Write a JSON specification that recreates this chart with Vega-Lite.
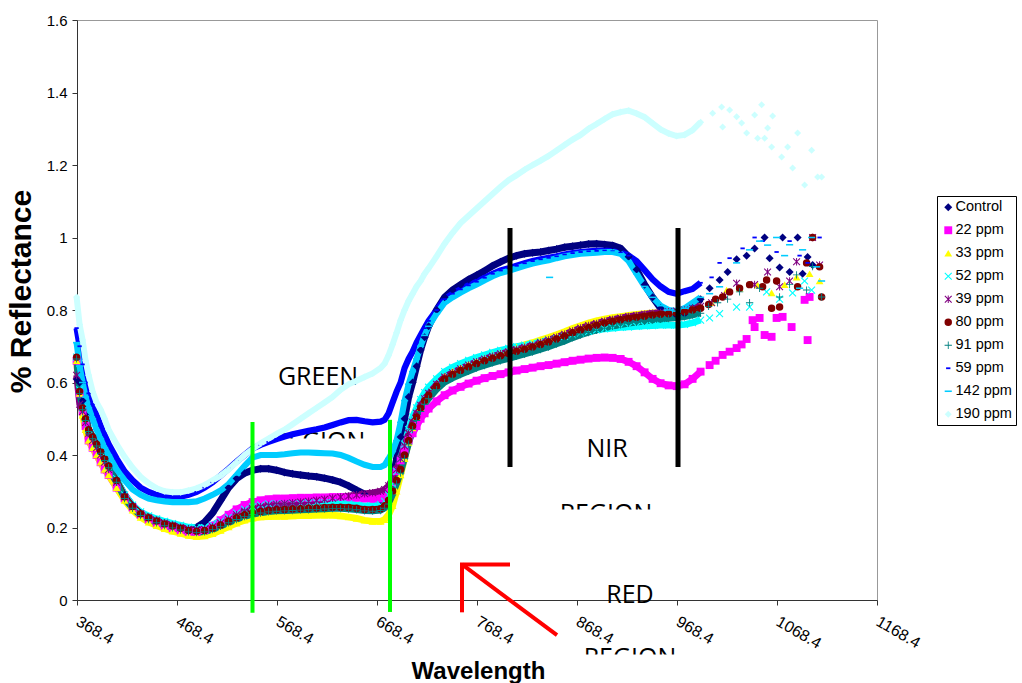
{
"$schema":"https://vega.github.io/schema/vega-lite/v6.json",
"width":800,"height":580,
"autosize":{"type":"none"},
"padding":{"left":77,"top":20,"right":145,"bottom":83},
"background":"white",
"config":{"view":{"stroke":"#999"},"font":"Liberation Sans","axis":{"grid":false,"domainColor":"#333","tickColor":"#333","labelColor":"#000","titleColor":"#000","labelFont":"Liberation Sans","titleFont":"Liberation Sans","labelFlush":false,"labelOverlap":false,"labelBound":false}},
"resolve":{"legend":{"color":"independent","shape":"independent","size":"independent","strokeWidth":"independent"}},
"datasets":{
"series":[{"k":"a","name":"Control","idx":0},{"k":"b","name":"22 ppm","idx":1},{"k":"c","name":"33 ppm","idx":2},{"k":"d","name":"52 ppm","idx":3},{"k":"e","name":"39 ppm","idx":4},{"k":"f","name":"80 ppm","idx":5},{"k":"g","name":"91 ppm","idx":6},{"k":"h","name":"59 ppm","idx":7},{"k":"i","name":"142 ppm","idx":8},{"k":"j","name":"190 ppm","idx":9}],
"main":[
{"w":368,"a":0.61,"b":0.66,"c":0.66,"d":0.67,"e":0.62,"f":0.67,"g":0.665,"h":0.75,"i":0.71,"j":0.836},
{"w":371,"a":0.60,"b":0.57,"c":0.57,"d":0.58,"e":0.54,"f":0.575,"g":0.57,"h":0.70,"i":0.645,"j":0.76},
{"w":374,"a":0.55,"b":0.52,"c":0.51,"d":0.53,"e":0.52,"f":0.53,"g":0.525,"h":0.65,"i":0.60,"j":0.717},
{"w":377,"a":0.51,"b":0.48,"c":0.47,"d":0.50,"e":0.49,"f":0.50,"g":0.495,"h":0.60,"i":0.56,"j":0.66},
{"w":380,"a":0.47,"b":0.44,"c":0.44,"d":0.47,"e":0.46,"f":0.47,"g":0.465,"h":0.57,"i":0.53,"j":0.62},
{"w":384,"a":0.45,"b":0.42,"c":0.42,"d":0.45,"e":0.44,"f":0.45,"g":0.445,"h":0.54,"i":0.50,"j":0.575},
{"w":388,"a":0.43,"b":0.40,"c":0.40,"d":0.43,"e":0.42,"f":0.43,"g":0.425,"h":0.51,"i":0.47,"j":0.545},
{"w":392,"a":0.41,"b":0.38,"c":0.38,"d":0.41,"e":0.40,"f":0.41,"g":0.405,"h":0.48,"i":0.445,"j":0.525},
{"w":396,"a":0.39,"b":0.36,"c":0.36,"d":0.39,"e":0.38,"f":0.39,"g":0.385,"h":0.455,"i":0.42,"j":0.50},
{"w":400,"a":0.37,"b":0.345,"c":0.345,"d":0.37,"e":0.36,"f":0.37,"g":0.365,"h":0.43,"i":0.40,"j":0.47},
{"w":408,"a":0.33,"b":0.31,"c":0.31,"d":0.335,"e":0.325,"f":0.33,"g":0.325,"h":0.39,"i":0.36,"j":0.43},
{"w":416,"a":0.29,"b":0.28,"c":0.275,"d":0.29,"e":0.285,"f":0.285,"g":0.28,"h":0.355,"i":0.33,"j":0.395},
{"w":424,"a":0.26,"b":0.255,"c":0.248,"d":0.262,"e":0.258,"f":0.258,"g":0.253,"h":0.33,"i":0.305,"j":0.365},
{"w":432,"a":0.24,"b":0.235,"c":0.228,"d":0.243,"e":0.238,"f":0.238,"g":0.233,"h":0.31,"i":0.29,"j":0.34},
{"w":440,"a":0.228,"b":0.222,"c":0.215,"d":0.232,"e":0.227,"f":0.227,"g":0.222,"h":0.298,"i":0.28,"j":0.322},
{"w":448,"a":0.22,"b":0.213,"c":0.205,"d":0.224,"e":0.219,"f":0.218,"g":0.213,"h":0.29,"i":0.275,"j":0.308},
{"w":456,"a":0.212,"b":0.205,"c":0.197,"d":0.217,"e":0.212,"f":0.21,"g":0.205,"h":0.285,"i":0.272,"j":0.30},
{"w":464,"a":0.206,"b":0.198,"c":0.19,"d":0.211,"e":0.206,"f":0.204,"g":0.199,"h":0.283,"i":0.27,"j":0.297},
{"w":472,"a":0.20,"b":0.192,"c":0.184,"d":0.206,"e":0.20,"f":0.198,"g":0.193,"h":0.285,"i":0.27,"j":0.297},
{"w":480,"a":0.196,"b":0.188,"c":0.178,"d":0.201,"e":0.195,"f":0.192,"g":0.188,"h":0.29,"i":0.27,"j":0.302},
{"w":488,"a":0.20,"b":0.188,"c":0.175,"d":0.199,"e":0.193,"f":0.19,"g":0.186,"h":0.298,"i":0.272,"j":0.308},
{"w":496,"a":0.215,"b":0.193,"c":0.177,"d":0.20,"e":0.195,"f":0.192,"g":0.188,"h":0.31,"i":0.28,"j":0.317},
{"w":504,"a":0.24,"b":0.205,"c":0.183,"d":0.207,"e":0.202,"f":0.198,"g":0.194,"h":0.325,"i":0.29,"j":0.33},
{"w":512,"a":0.275,"b":0.22,"c":0.192,"d":0.217,"e":0.212,"f":0.207,"g":0.203,"h":0.343,"i":0.302,"j":0.343},
{"w":520,"a":0.31,"b":0.235,"c":0.202,"d":0.228,"e":0.223,"f":0.217,"g":0.213,"h":0.362,"i":0.32,"j":0.36},
{"w":528,"a":0.335,"b":0.25,"c":0.212,"d":0.24,"e":0.235,"f":0.227,"g":0.222,"h":0.382,"i":0.345,"j":0.38},
{"w":536,"a":0.35,"b":0.262,"c":0.22,"d":0.25,"e":0.245,"f":0.235,"g":0.23,"h":0.40,"i":0.37,"j":0.40},
{"w":544,"a":0.358,"b":0.27,"c":0.226,"d":0.257,"e":0.252,"f":0.24,"g":0.236,"h":0.418,"i":0.393,"j":0.417},
{"w":552,"a":0.362,"b":0.275,"c":0.229,"d":0.262,"e":0.257,"f":0.244,"g":0.24,"h":0.428,"i":0.40,"j":0.432},
{"w":560,"a":0.362,"b":0.278,"c":0.23,"d":0.265,"e":0.261,"f":0.247,"g":0.243,"h":0.436,"i":0.40,"j":0.445},
{"w":568,"a":0.358,"b":0.28,"c":0.231,"d":0.266,"e":0.264,"f":0.249,"g":0.245,"h":0.444,"i":0.40,"j":0.458},
{"w":576,"a":0.352,"b":0.28,"c":0.231,"d":0.266,"e":0.266,"f":0.25,"g":0.246,"h":0.451,"i":0.402,"j":0.47},
{"w":584,"a":0.348,"b":0.281,"c":0.232,"d":0.267,"e":0.268,"f":0.251,"g":0.247,"h":0.457,"i":0.405,"j":0.485},
{"w":592,"a":0.345,"b":0.282,"c":0.233,"d":0.267,"e":0.27,"f":0.252,"g":0.248,"h":0.462,"i":0.407,"j":0.50},
{"w":600,"a":0.342,"b":0.282,"c":0.233,"d":0.268,"e":0.272,"f":0.253,"g":0.249,"h":0.467,"i":0.407,"j":0.515},
{"w":608,"a":0.34,"b":0.283,"c":0.234,"d":0.268,"e":0.275,"f":0.254,"g":0.25,"h":0.471,"i":0.406,"j":0.53},
{"w":616,"a":0.336,"b":0.283,"c":0.234,"d":0.268,"e":0.278,"f":0.255,"g":0.251,"h":0.476,"i":0.405,"j":0.545},
{"w":624,"a":0.331,"b":0.284,"c":0.234,"d":0.268,"e":0.281,"f":0.256,"g":0.252,"h":0.483,"i":0.404,"j":0.56},
{"w":632,"a":0.325,"b":0.284,"c":0.232,"d":0.267,"e":0.284,"f":0.256,"g":0.252,"h":0.49,"i":0.40,"j":0.58},
{"w":640,"a":0.315,"b":0.283,"c":0.229,"d":0.265,"e":0.287,"f":0.255,"g":0.251,"h":0.496,"i":0.392,"j":0.595},
{"w":648,"a":0.303,"b":0.282,"c":0.225,"d":0.262,"e":0.29,"f":0.253,"g":0.249,"h":0.497,"i":0.382,"j":0.605},
{"w":656,"a":0.292,"b":0.28,"c":0.22,"d":0.26,"e":0.293,"f":0.25,"g":0.246,"h":0.493,"i":0.373,"j":0.615},
{"w":664,"a":0.282,"b":0.279,"c":0.217,"d":0.26,"e":0.296,"f":0.25,"g":0.245,"h":0.49,"i":0.367,"j":0.625},
{"w":672,"a":0.276,"b":0.28,"c":0.217,"d":0.263,"e":0.30,"f":0.252,"g":0.247,"h":0.492,"i":0.367,"j":0.64},
{"w":676,"a":0.28,"b":0.285,"c":0.222,"d":0.272,"e":0.305,"f":0.26,"g":0.253,"h":0.497,"i":0.372,"j":0.652},
{"w":680,"a":0.295,"b":0.30,"c":0.235,"d":0.29,"e":0.315,"f":0.275,"g":0.265,"h":0.515,"i":0.39,"j":0.675},
{"w":684,"a":0.33,"b":0.325,"c":0.26,"d":0.32,"e":0.335,"f":0.30,"g":0.29,"h":0.545,"i":0.41,"j":0.705},
{"w":688,"a":0.39,"b":0.355,"c":0.30,"d":0.355,"e":0.36,"f":0.33,"g":0.32,"h":0.575,"i":0.44,"j":0.737},
{"w":692,"a":0.45,"b":0.385,"c":0.345,"d":0.39,"e":0.39,"f":0.36,"g":0.35,"h":0.60,"i":0.49,"j":0.772},
{"w":696,"a":0.50,"b":0.415,"c":0.39,"d":0.43,"e":0.425,"f":0.40,"g":0.39,"h":0.64,"i":0.55,"j":0.80},
{"w":700,"a":0.56,"b":0.44,"c":0.435,"d":0.47,"e":0.46,"f":0.44,"g":0.43,"h":0.665,"i":0.595,"j":0.825},
{"w":704,"a":0.60,"b":0.46,"c":0.475,"d":0.505,"e":0.49,"f":0.48,"g":0.47,"h":0.685,"i":0.63,"j":0.845},
{"w":708,"a":0.645,"b":0.48,"c":0.505,"d":0.53,"e":0.515,"f":0.505,"g":0.495,"h":0.71,"i":0.665,"j":0.865},
{"w":712,"a":0.69,"b":0.50,"c":0.53,"d":0.553,"e":0.537,"f":0.53,"g":0.52,"h":0.73,"i":0.70,"j":0.88},
{"w":716,"a":0.725,"b":0.515,"c":0.552,"d":0.572,"e":0.555,"f":0.55,"g":0.54,"h":0.75,"i":0.73,"j":0.90},
{"w":720,"a":0.755,"b":0.528,"c":0.568,"d":0.587,"e":0.57,"f":0.565,"g":0.555,"h":0.77,"i":0.755,"j":0.915},
{"w":728,"a":0.80,"b":0.548,"c":0.595,"d":0.61,"e":0.595,"f":0.59,"g":0.58,"h":0.80,"i":0.79,"j":0.948},
{"w":736,"a":0.835,"b":0.565,"c":0.618,"d":0.63,"e":0.615,"f":0.61,"g":0.60,"h":0.83,"i":0.82,"j":0.983},
{"w":744,"a":0.855,"b":0.578,"c":0.632,"d":0.642,"e":0.627,"f":0.622,"g":0.612,"h":0.845,"i":0.835,"j":1.013},
{"w":752,"a":0.87,"b":0.588,"c":0.643,"d":0.652,"e":0.638,"f":0.633,"g":0.622,"h":0.857,"i":0.848,"j":1.04},
{"w":760,"a":0.884,"b":0.597,"c":0.654,"d":0.661,"e":0.648,"f":0.643,"g":0.631,"h":0.868,"i":0.86,"j":1.06},
{"w":768,"a":0.896,"b":0.605,"c":0.663,"d":0.669,"e":0.657,"f":0.652,"g":0.64,"h":0.878,"i":0.87,"j":1.08},
{"w":776,"a":0.908,"b":0.612,"c":0.671,"d":0.676,"e":0.665,"f":0.66,"g":0.647,"h":0.889,"i":0.882,"j":1.10},
{"w":784,"a":0.922,"b":0.618,"c":0.679,"d":0.683,"e":0.672,"f":0.667,"g":0.654,"h":0.90,"i":0.893,"j":1.12},
{"w":792,"a":0.933,"b":0.623,"c":0.686,"d":0.689,"e":0.679,"f":0.674,"g":0.66,"h":0.909,"i":0.902,"j":1.14},
{"w":800,"a":0.943,"b":0.628,"c":0.692,"d":0.694,"e":0.685,"f":0.68,"g":0.666,"h":0.915,"i":0.908,"j":1.158},
{"w":808,"a":0.95,"b":0.633,"c":0.698,"d":0.699,"e":0.691,"f":0.686,"g":0.672,"h":0.922,"i":0.915,"j":1.172},
{"w":816,"a":0.955,"b":0.637,"c":0.704,"d":0.703,"e":0.697,"f":0.692,"g":0.678,"h":0.929,"i":0.922,"j":1.187},
{"w":824,"a":0.958,"b":0.641,"c":0.71,"d":0.707,"e":0.703,"f":0.698,"g":0.684,"h":0.935,"i":0.928,"j":1.20},
{"w":832,"a":0.96,"b":0.645,"c":0.717,"d":0.712,"e":0.71,"f":0.705,"g":0.691,"h":0.94,"i":0.933,"j":1.212},
{"w":840,"a":0.964,"b":0.648,"c":0.724,"d":0.717,"e":0.717,"f":0.712,"g":0.698,"h":0.944,"i":0.937,"j":1.225},
{"w":848,"a":0.968,"b":0.652,"c":0.732,"d":0.722,"e":0.725,"f":0.72,"g":0.706,"h":0.948,"i":0.943,"j":1.24},
{"w":856,"a":0.973,"b":0.656,"c":0.74,"d":0.727,"e":0.733,"f":0.728,"g":0.714,"h":0.953,"i":0.948,"j":1.255},
{"w":864,"a":0.976,"b":0.66,"c":0.749,"d":0.732,"e":0.742,"f":0.737,"g":0.723,"h":0.957,"i":0.952,"j":1.27},
{"w":872,"a":0.979,"b":0.663,"c":0.757,"d":0.737,"e":0.75,"f":0.745,"g":0.731,"h":0.96,"i":0.955,"j":1.283},
{"w":880,"a":0.982,"b":0.666,"c":0.764,"d":0.741,"e":0.757,"f":0.752,"g":0.738,"h":0.962,"i":0.957,"j":1.30},
{"w":888,"a":0.983,"b":0.668,"c":0.77,"d":0.745,"e":0.763,"f":0.758,"g":0.744,"h":0.963,"i":0.958,"j":1.313},
{"w":896,"a":0.981,"b":0.669,"c":0.775,"d":0.748,"e":0.769,"f":0.764,"g":0.75,"h":0.964,"i":0.96,"j":1.327},
{"w":904,"a":0.978,"b":0.668,"c":0.779,"d":0.75,"e":0.774,"f":0.769,"g":0.755,"h":0.962,"i":0.96,"j":1.34},
{"w":912,"a":0.97,"b":0.665,"c":0.782,"d":0.752,"e":0.778,"f":0.773,"g":0.759,"h":0.958,"i":0.955,"j":1.346},
{"w":920,"a":0.947,"b":0.657,"c":0.785,"d":0.753,"e":0.782,"f":0.777,"g":0.763,"h":0.95,"i":0.935,"j":1.35},
{"w":928,"a":0.912,"b":0.645,"c":0.788,"d":0.755,"e":0.785,"f":0.78,"g":0.766,"h":0.935,"i":0.90,"j":1.342},
{"w":936,"a":0.87,"b":0.628,"c":0.79,"d":0.756,"e":0.788,"f":0.783,"g":0.769,"h":0.91,"i":0.865,"j":1.332},
{"w":944,"a":0.835,"b":0.61,"c":0.792,"d":0.757,"e":0.791,"f":0.786,"g":0.772,"h":0.885,"i":0.835,"j":1.315},
{"w":952,"a":0.805,"b":0.598,"c":0.793,"d":0.758,"e":0.793,"f":0.788,"g":0.774,"h":0.865,"i":0.812,"j":1.298},
{"w":960,"a":0.788,"b":0.592,"c":0.795,"d":0.758,"e":0.795,"f":0.79,"g":0.776,"h":0.85,"i":0.80,"j":1.287},
{"w":968,"a":0.785,"b":0.59,"c":0.797,"d":0.758,"e":0.797,"f":0.792,"g":0.778,"h":0.845,"i":0.797,"j":1.28},
{"w":976,"a":0.79,"b":0.595,"c":0.80,"d":0.76,"e":0.80,"f":0.795,"g":0.781,"h":0.852,"i":0.805,"j":1.283},
{"w":984,"a":0.805,"b":0.61,"c":0.805,"d":0.765,"e":0.805,"f":0.80,"g":0.786,"h":0.858,"i":0.82,"j":1.296},
{"w":992,"a":0.83,"b":0.63,"c":0.81,"d":0.772,"e":0.81,"f":0.805,"g":0.791,"h":0.875,"i":0.835,"j":1.318}
],
"scat":[
{"k":"a","w":1001,"r":0.86},{"k":"a","w":1011,"r":0.883},{"k":"a","w":1019,"r":0.905},{"k":"a","w":1028,"r":0.94},{"k":"a","w":1038,"r":0.95},{"k":"a","w":1046,"r":0.97},{"k":"a","w":1056,"r":1.0},{"k":"a","w":1061,"r":0.943},{"k":"a","w":1071,"r":0.917},{"k":"a","w":1074,"r":1.0},{"k":"a","w":1081,"r":0.905},{"k":"a","w":1089,"r":1.0},{"k":"a","w":1094,"r":0.90},{"k":"a","w":1099,"r":0.946},{"k":"a","w":1104,"r":0.924},
{"k":"b","w":1001,"r":0.648},{"k":"b","w":1007,"r":0.66},{"k":"b","w":1014,"r":0.676},{"k":"b","w":1021,"r":0.685},{"k":"b","w":1028,"r":0.695},{"k":"b","w":1033,"r":0.705},{"k":"b","w":1038,"r":0.72},{"k":"b","w":1044,"r":0.772},{"k":"b","w":1046,"r":0.753},{"k":"b","w":1051,"r":0.778},{"k":"b","w":1056,"r":0.731},{"k":"b","w":1063,"r":0.726},{"k":"b","w":1068,"r":0.778},{"k":"b","w":1074,"r":0.781},{"k":"b","w":1083,"r":0.753},{"k":"b","w":1096,"r":0.828},{"k":"b","w":1099,"r":0.717},{"k":"b","w":1101,"r":0.836},
{"k":"c","w":1003,"r":0.82},{"k":"c","w":1018,"r":0.855},{"k":"c","w":1031,"r":0.86},{"k":"c","w":1049,"r":0.869},{"k":"c","w":1063,"r":0.847},{"k":"c","w":1076,"r":0.87},{"k":"c","w":1088,"r":0.891},{"k":"c","w":1101,"r":0.9},{"k":"c","w":1111,"r":0.88},
{"k":"d","w":1001,"r":0.778},{"k":"d","w":1011,"r":0.79},{"k":"d","w":1028,"r":0.808},{"k":"d","w":1041,"r":0.808},{"k":"d","w":1058,"r":0.85},{"k":"d","w":1071,"r":0.83},{"k":"d","w":1084,"r":0.847},{"k":"d","w":1096,"r":0.88},{"k":"d","w":1103,"r":0.855},
{"k":"e","w":1003,"r":0.82},{"k":"e","w":1016,"r":0.84},{"k":"e","w":1028,"r":0.874},{"k":"e","w":1046,"r":0.87},{"k":"e","w":1059,"r":0.905},{"k":"e","w":1071,"r":0.864},{"k":"e","w":1081,"r":0.88},{"k":"e","w":1088,"r":0.933},{"k":"e","w":1104,"r":1.0},{"k":"e","w":1111,"r":0.924},
{"k":"f","w":1000,"r":0.815},{"k":"f","w":1007,"r":0.83},{"k":"f","w":1014,"r":0.836},{"k":"f","w":1021,"r":0.85},{"k":"f","w":1031,"r":0.86},{"k":"f","w":1041,"r":0.87},{"k":"f","w":1054,"r":0.864},{"k":"f","w":1058,"r":0.883},{"k":"f","w":1063,"r":0.805},{"k":"f","w":1068,"r":0.88},{"k":"f","w":1071,"r":0.808},{"k":"f","w":1089,"r":0.864},{"k":"f","w":1098,"r":0.93},{"k":"f","w":1104,"r":1.0},{"k":"f","w":1111,"r":0.919},{"k":"f","w":1113,"r":0.836},
{"k":"g","w":1000,"r":0.81},{"k":"g","w":1009,"r":0.82},{"k":"g","w":1019,"r":0.83},{"k":"g","w":1031,"r":0.85},{"k":"g","w":1041,"r":0.82},{"k":"g","w":1051,"r":0.86},{"k":"g","w":1071,"r":0.836},{"k":"g","w":1081,"r":0.87},{"k":"g","w":1088,"r":0.897},{"k":"g","w":1098,"r":0.855},{"k":"g","w":1104,"r":0.92},{"k":"g","w":1113,"r":0.836},
{"k":"h","w":1003,"r":0.89},{"k":"h","w":1011,"r":0.93},{"k":"h","w":1021,"r":0.943},{"k":"h","w":1034,"r":0.97},{"k":"h","w":1046,"r":1.0},{"k":"h","w":1054,"r":0.99},{"k":"h","w":1068,"r":0.96},{"k":"h","w":1081,"r":0.99},{"k":"h","w":1091,"r":0.95},{"k":"h","w":1099,"r":0.93},{"k":"h","w":1111,"r":1.0},
{"k":"i","w":841,"r":0.89},{"k":"i","w":1001,"r":0.845},{"k":"i","w":1011,"r":0.864},{"k":"i","w":1028,"r":0.93},{"k":"i","w":1041,"r":0.966},{"k":"i","w":1051,"r":0.99},{"k":"i","w":1059,"r":0.979},{"k":"i","w":1068,"r":1.0},{"k":"i","w":1076,"r":0.95},{"k":"i","w":1081,"r":0.98},{"k":"i","w":1091,"r":0.86},{"k":"i","w":1094,"r":0.966},{"k":"i","w":1103,"r":1.0},{"k":"i","w":1108,"r":0.919},{"k":"i","w":1113,"r":0.88},
{"k":"j","w":1004,"r":1.343},{"k":"j","w":1013,"r":1.36},{"k":"j","w":1014,"r":1.305},{"k":"j","w":1021,"r":1.352},{"k":"j","w":1028,"r":1.333},{"k":"j","w":1033,"r":1.316},{"k":"j","w":1038,"r":1.288},{"k":"j","w":1046,"r":1.338},{"k":"j","w":1049,"r":1.274},{"k":"j","w":1053,"r":1.366},{"k":"j","w":1056,"r":1.274},{"k":"j","w":1059,"r":1.302},{"k":"j","w":1063,"r":1.25},{"k":"j","w":1064,"r":1.335},{"k":"j","w":1073,"r":1.222},{"k":"j","w":1079,"r":1.25},{"k":"j","w":1084,"r":1.192},{"k":"j","w":1089,"r":1.288},{"k":"j","w":1096,"r":1.145},{"k":"j","w":1103,"r":1.241},{"k":"j","w":1109,"r":1.167},{"k":"j","w":1113,"r":1.167}
],
"labels":[{"w":609.4,"r":0.593,"t":"GREEN"},{"w":898.4,"r":0.394,"t":"NIR"},{"w":921.4,"r":-0.008,"t":"RED"},{"w":610.4,"r":0.414,"t":"REGION"},{"w":897.4,"r":0.215,"t":"REGION"},{"w":921.4,"r":-0.182,"t":"REGION"}],
"covers":[{"w":559.4,"w2":661.4,"r":0.4455,"r2":0.39},{"w":846,"w2":951,"r":0.2497,"r2":0.193},{"w":869,"w2":974,"r":-0.1503,"r2":-0.199}],
"green":[{"w":543.9,"r":0.491,"r2":-0.035},{"w":681.4,"r":0.497,"r2":-0.033}],
"black":[{"w":801.4,"r":1.026,"r2":0.367},{"w":969.4,"r":1.026,"r2":0.367}],
"arrow":[{"w":753.4,"r":0.098,"w2":753.4,"r2":-0.034},{"w":751.4,"r":0.098,"w2":801.4,"r2":0.098},{"w":753.4,"r":0.098,"w2":848.4,"r2":-0.097}]
},
"encoding":{
"x":{"field":"w","type":"quantitative","scale":{"domain":[368.4,1168.4],"nice":false,"zero":false},
 "axis":{"values":[368.4,468.4,568.4,668.4,768.4,868.4,968.4,1068.4,1168.4],"format":".1f","labelAngle":30,"labelAlign":"left","labelBaseline":"top","labelFontSize":16,"labelOffset":4,"labelPadding":8,"tickSize":5,"title":"Wavelength","titleFontSize":24,"titleFontWeight":"bold","titleX":401,"titleY":78,"titleAlign":"center","titleBaseline":"alphabetic"}},
"y":{"field":"r","type":"quantitative","scale":{"domain":[0,1.6],"nice":false,"zero":false},
 "axis":{"values":[0,0.2,0.4,0.6,0.8,1,1.2,1.4,1.6],"format":".1~f","labelFontSize":15,"labelPadding":5,"tickSize":5,"title":"% Reflectance","titleFontSize":30,"titleFontWeight":"bold","titleAngle":-90,"titleX":-47,"titleY":271,"titleAlign":"center","titleBaseline":"alphabetic"}}
},
"layer":[
{"data":{"name":"labels"},"mark":{"type":"text","font":"Open Sans","fontSize":25,"align":"center","baseline":"alphabetic","color":"#000"},"encoding":{"text":{"field":"t","type":"nominal"}}},
{"data":{"name":"covers"},"mark":{"type":"rect","color":"white"},"encoding":{"x2":{"field":"w2"},"y2":{"field":"r2"}}},
{"data":{"name":"main"},
 "transform":[{"fold":["a","b","c","d","e","f","g","h","i","j"],"as":["k","r"]},{"lookup":"k","from":{"data":{"name":"series"},"key":"k","fields":["name","idx"]}}],
 "resolve":{"legend":{"color":"independent","shape":"independent","size":"independent","strokeWidth":"independent"}},
 "layer":[
  {"mark":{"type":"line","interpolate":"linear"},
   "encoding":{
    "color":{"field":"name","type":"nominal","scale":{"domain":["Control","22 ppm","33 ppm","52 ppm","39 ppm","80 ppm","91 ppm","59 ppm","142 ppm","190 ppm"],"range":["#000080","#FF00FF","#FFFF00","#00FFFF","#800080","#800000","#008080","#0000FF","#00CCFF","#CCFFFF"]},"legend":null},
    "strokeWidth":{"field":"name","type":"nominal","scale":{"domain":["Control","22 ppm","33 ppm","52 ppm","39 ppm","80 ppm","91 ppm","59 ppm","142 ppm","190 ppm"],"range":[7,6,5,4,4,6,4,1.5,3.5,8]},"legend":null}}},
  {"mark":{"type":"point","filled":true,"opacity":1,"strokeWidth":0},
   "encoding":{
    "color":{"field":"name","type":"nominal","legend":{"title":null,"orient":"none","legendX":860,"legendY":176,"strokeColor":"#000","fillColor":"white","padding":4,"labelFontSize":14.5,"labelFont":"Liberation Sans","labelColor":"#000","symbolSize":50,"rowPadding":8,"labelOffset":0}},
    "shape":{"field":"name","type":"nominal","scale":{"domain":["Control","22 ppm","33 ppm","52 ppm","39 ppm","80 ppm","91 ppm","59 ppm","142 ppm","190 ppm"],"range":["diamond","square","triangle-up","M-1,-0.8L-0.8,-1L0,-0.2L0.8,-1L1,-0.8L0.2,0L1,0.8L0.8,1L0,0.2L-0.8,1L-1,0.8L-0.2,0Z","M-1,-0.8L-0.8,-1L0,-0.2L0.8,-1L1,-0.8L0.2,0L1,0.8L0.8,1L0,0.2L-0.8,1L-1,0.8L-0.2,0Z M-0.13,-1L0.13,-1L0.13,1L-0.13,1Z","circle","M-1,-0.12L1,-0.12L1,0.12L-1,0.12Z M-0.12,-1L0.12,-1L0.12,1L-0.12,1Z","M-0.6,-0.25L0.6,-0.25L0.6,0.25L-0.6,0.25Z","M-1,-0.22L1,-0.22L1,0.22L-1,0.22Z","diamond"]},"legend":{"title":null,"orient":"none","legendX":860,"legendY":176,"strokeColor":"#000","fillColor":"white","padding":4,"labelFontSize":14.5,"labelFont":"Liberation Sans","labelColor":"#000","symbolSize":50,"rowPadding":8,"labelOffset":0}},
    "size":{"field":"name","type":"nominal","scale":{"domain":["Control","22 ppm","33 ppm","52 ppm","39 ppm","80 ppm","91 ppm","59 ppm","142 ppm","190 ppm"],"range":[64,49,64,49,64,56,64,49,81,81]},"legend":null},
    "order":{"field":"idx","type":"quantitative"}}}
 ]},
{"data":{"name":"scat"},
 "transform":[{"lookup":"k","from":{"data":{"name":"series"},"key":"k","fields":["name","idx"]}}],
 "mark":{"type":"point","filled":true,"opacity":1,"strokeWidth":0},
 "encoding":{
  "color":{"field":"name","type":"nominal","legend":null},
  "shape":{"field":"name","type":"nominal","legend":null},
  "size":{"field":"name","type":"nominal","legend":null},
  "order":{"field":"idx","type":"quantitative"}}},
{"data":{"name":"green"},"mark":{"type":"rule","color":"#00FF00","strokeWidth":4},"encoding":{"y2":{"field":"r2"}}},
{"data":{"name":"black"},"mark":{"type":"rule","color":"#000000","strokeWidth":5},"encoding":{"y2":{"field":"r2"}}},
{"data":{"name":"arrow"},"mark":{"type":"rule","color":"#FF0000","strokeWidth":4},"encoding":{"x2":{"field":"w2"},"y2":{"field":"r2"}}}
]
}
